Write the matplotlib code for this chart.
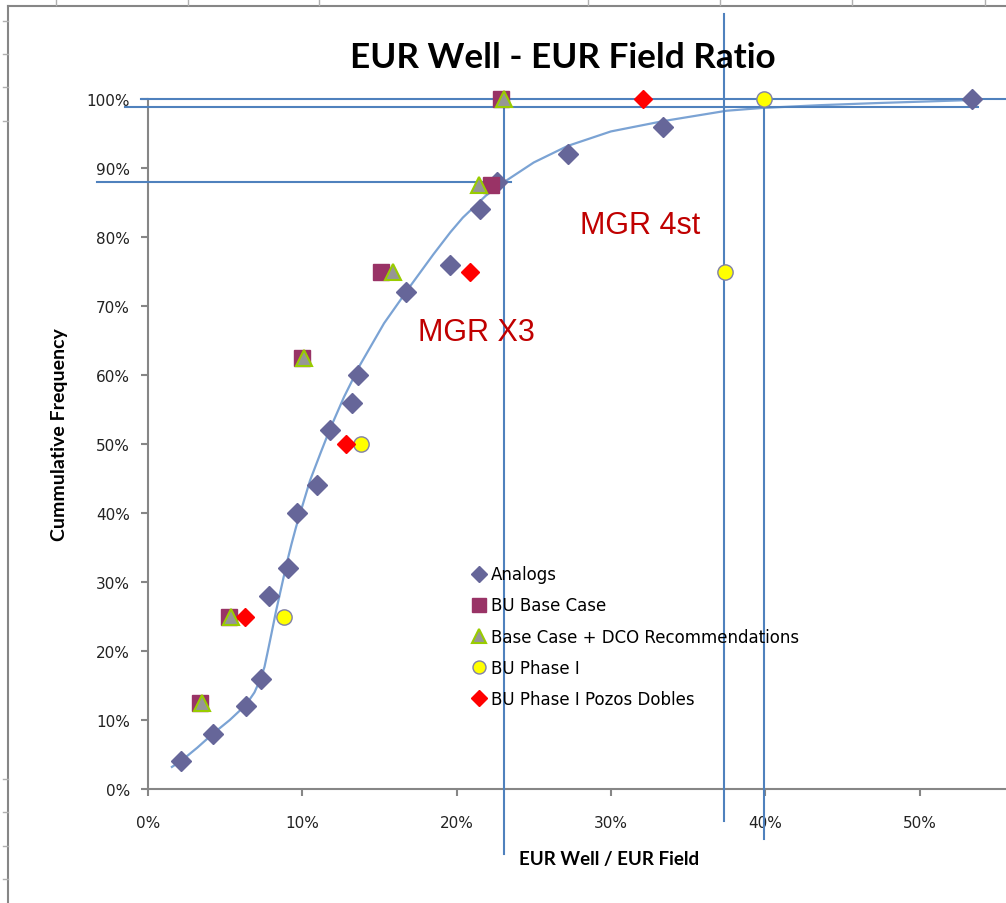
import matplotlib
matplotlib.use('agg')
import matplotlib.pyplot as plt
from matplotlib.lines import Line2D
from matplotlib.ticker import PercentFormatter

W, H = 1006, 904

# data (fractions)
analogs_x = [0.0214, 0.042, 0.0635, 0.073, 0.0785, 0.091, 0.0965, 0.1095, 0.118,
             0.132, 0.136, 0.167, 0.196, 0.215, 0.226, 0.272, 0.334, 0.534]
analogs_y = [0.04, 0.08, 0.12, 0.16, 0.28, 0.32, 0.40, 0.44, 0.52,
             0.56, 0.60, 0.72, 0.76, 0.84, 0.88, 0.92, 0.96, 1.00]

base_x = [0.034, 0.0525, 0.100, 0.151, 0.222, 0.229]
base_y = [0.125, 0.25, 0.625, 0.75, 0.875, 1.00]

dco_x = [0.035, 0.054, 0.101, 0.159, 0.2145, 0.231]
dco_y = [0.125, 0.25, 0.625, 0.75, 0.875, 1.00]

phase1_x = [0.088, 0.138, 0.374, 0.399]
phase1_y = [0.25, 0.50, 0.75, 1.00]

dobles_x = [0.063, 0.128, 0.209, 0.321]
dobles_y = [0.25, 0.50, 0.75, 1.00]

# fitted curve
curve_x = [0.0155, 0.0214, 0.032, 0.042, 0.053, 0.0635, 0.069, 0.073, 0.0755, 0.0775,
           0.080, 0.083, 0.0865, 0.090, 0.093, 0.096, 0.1, 0.105, 0.112, 0.118, 0.127,
           0.137, 0.153, 0.170, 0.185, 0.196, 0.204, 0.219, 0.231, 0.250, 0.272, 0.300,
           0.334, 0.375, 0.398, 0.435, 0.471, 0.535]
curve_y = [0.032, 0.0406, 0.060, 0.080, 0.100, 0.122, 0.140, 0.160, 0.177, 0.198,
           0.225, 0.258, 0.293, 0.328, 0.355, 0.380, 0.410, 0.447, 0.488, 0.522, 0.568,
           0.613, 0.675, 0.729, 0.775, 0.807, 0.828, 0.860, 0.880, 0.908, 0.932, 0.953,
           0.968, 0.983, 0.987, 0.991, 0.994, 0.9986]

# reference lines: (position, start, end)
hlines = [(1.00, -0.0045, 0.56), (0.9884, -0.015, 0.538), (0.8797, -0.033, 0.235)]
vlines = [(0.231, 1.00, -0.094), (0.373, 1.123, -0.046), (0.3995, 1.007, -0.072)]

labels = ['Analogs', 'BU Base Case', 'Base Case + DCO Recommendations',
          'BU Phase I', 'BU Phase I Pozos Dobles']
notes = [('MGR X3', 0.213, 0.662), ('MGR 4st', 0.319, 0.817)]

LINE_C = '#4F81BD'
GREY = '#868686'


def px(x, y):
    return x / W, 1 - y / H


def main():
    fig = plt.figure(figsize=(W / 100, H / 100), dpi=100)
    l, b = px(148, 790)
    r, t = px(1006, 100)
    ax = fig.add_axes([l, b, r - l, t - b])
    ax.set_xlim(0, (1006 - 148) / 1543)
    ax.set_ylim(0, 1)

    # outer chart frame
    fig.add_artist(Line2D([8 / W, 8 / W], [0, 1 - 7 / H], color=GREY, lw=1.5,
                          transform=fig.transFigure))
    fig.add_artist(Line2D([8 / W, 1], [1 - 7 / H, 1 - 7 / H], color=GREY, lw=1.5,
                          transform=fig.transFigure))
    for tx in [56, 188, 319, 588, 720, 852, 985]:
        fig.add_artist(Line2D([tx / W, tx / W], [1 - 1 / H, 1 - 6 / H], color='#B0B0B0',
                              lw=1, transform=fig.transFigure))
    for ty in [22, 55, 88, 122, 780, 813, 847, 880]:
        fig.add_artist(Line2D([3 / W, 8 / W], [1 - ty / H, 1 - ty / H], color='#B0B0B0',
                              lw=1, transform=fig.transFigure))

    ax.plot(curve_x, curve_y, color='#7BA3D4', lw=1.6, zorder=2)

    for y, x0, x1 in hlines:
        ax.plot([x0, x1], [y, y], color=LINE_C, lw=1.5, clip_on=False, zorder=3)
    for x, y0, y1 in vlines:
        ax.plot([x, x], [y0, y1], color=LINE_C, lw=1.5, clip_on=False, zorder=3)

    h1, = ax.plot(analogs_x, analogs_y, 'D', ms=10, color='#666699', mec='#666699',
                  clip_on=False, zorder=4)
    h2, = ax.plot(base_x, base_y, 's', ms=12, color='#993366', mec='#993366',
                  clip_on=False, zorder=4)
    h3, = ax.plot(dco_x, dco_y, '^', ms=12, color='#969696', mec='#99CC00', mew=1.5,
                  clip_on=False, zorder=5)
    h4, = ax.plot(phase1_x, phase1_y, 'o', ms=11, color='#FFFF00', mec='#8080A8', mew=1,
                  clip_on=False, zorder=4)
    h5, = ax.plot(dobles_x, dobles_y, 'D', ms=9.5, color='#FF0000', mec='#FF0000',
                  clip_on=False, zorder=4)

    for txt, x, y in notes:
        ax.text(x, y, txt, color='#C00000', fontsize=22, family='Liberation Sans',
                ha='center', va='center', zorder=6)

    ax.spines['top'].set_visible(False)
    ax.spines['right'].set_visible(False)
    for s in ['left', 'bottom']:
        ax.spines[s].set_color(GREY)
        ax.spines[s].set_linewidth(1.5)
    ax.set_xticks([0, 0.1, 0.2, 0.3, 0.4, 0.5])
    ax.set_yticks([i / 10 for i in range(11)])
    ax.xaxis.set_major_formatter(PercentFormatter(1.0, decimals=0))
    ax.yaxis.set_major_formatter(PercentFormatter(1.0, decimals=0))
    ax.tick_params(axis='both', colors=GREY, labelcolor='#222222', length=5, width=1.5,
                   labelsize=11, direction='out')
    ax.tick_params(axis='x', pad=14)
    ax.tick_params(axis='y', pad=8)

    fig.text(563 / W, 1 - 58 / H, 'EUR Well - EUR Field Ratio', fontsize=25.3,
             fontweight='bold', family='Lato', ha='center', va='center')
    fig.text(60 / W, 1 - 435 / H, 'Cummulative Frequency', fontsize=14,
             fontweight='bold', family='Lato', ha='center', va='center', rotation=90)
    fig.text(609 / W, 1 - 860 / H, 'EUR Well / EUR Field', fontsize=13.5,
             fontweight='bold', family='Lato', ha='center', va='center')

    leg = ax.legend([h1, h2, h3, h4, h5], labels, loc='upper left', frameon=False,
                    bbox_to_anchor=(462 / W, 1 - 558 / H), bbox_transform=fig.transFigure,
                    fontsize=12, borderpad=0, handlelength=1.0, handletextpad=0.25,
                    labelspacing=0.79, markerscale=0.85)
    leg.set_zorder(7)

    fig.savefig('out.png', dpi=100)


if __name__ == '__main__':
    main()
